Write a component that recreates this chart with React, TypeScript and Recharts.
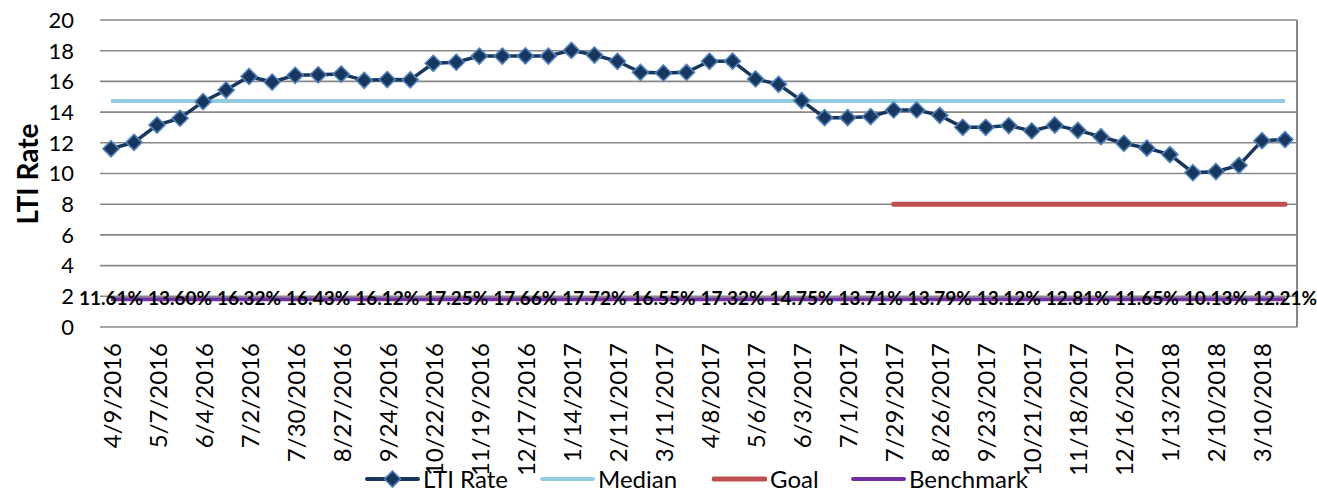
import React from "react";
import { LineChart, Line, XAxis, YAxis, CartesianGrid, Legend, LabelList } from "recharts";

const dates: string[] = [
  "4/9/2016", "4/23/2016", "5/7/2016", "5/21/2016", "6/4/2016", "6/18/2016",
  "7/2/2016", "7/16/2016", "7/30/2016", "8/13/2016", "8/27/2016", "9/10/2016",
  "9/24/2016", "10/8/2016", "10/22/2016", "11/5/2016", "11/19/2016", "12/3/2016",
  "12/17/2016", "12/31/2016", "1/14/2017", "1/28/2017", "2/11/2017", "2/25/2017",
  "3/11/2017", "3/25/2017", "4/8/2017", "4/22/2017", "5/6/2017", "5/20/2017",
  "6/3/2017", "6/17/2017", "7/1/2017", "7/15/2017", "7/29/2017", "8/12/2017",
  "8/26/2017", "9/9/2017", "9/23/2017", "10/7/2017", "10/21/2017", "11/4/2017",
  "11/18/2017", "12/2/2017", "12/16/2017", "12/30/2017", "1/13/2018", "1/27/2018",
  "2/10/2018", "2/24/2018", "3/10/2018", "3/24/2018",
];

const ltiRate: number[] = [
  11.61, 12.03, 13.16, 13.6, 14.68, 15.44,
  16.32, 15.96, 16.4, 16.43, 16.48, 16.07,
  16.12, 16.1, 17.18, 17.25, 17.65, 17.65,
  17.66, 17.65, 18.02, 17.72, 17.31, 16.59,
  16.55, 16.59, 17.31, 17.32, 16.16, 15.81,
  14.75, 13.64, 13.64, 13.71, 14.14, 14.14,
  13.79, 13.01, 13.01, 13.12, 12.77, 13.16,
  12.81, 12.4, 11.97, 11.65, 11.23, 10.05,
  10.13, 10.53, 12.14, 12.21,
];

const medianValue = 14.72;
const goalValue = 8;
const goalStartDate = "7/29/2017";
const benchmarkValue = 1.8;
const labelEvery = 3;
const yTicks: number[] = [0, 2, 4, 6, 8, 10, 12, 14, 16, 18, 20];

const goalStart = dates.indexOf(goalStartDate);
const data = dates.map((d, i) => ({
  date: d,
  lti: ltiRate[i],
  median: medianValue,
  goal: i >= goalStart ? goalValue : null,
  benchmark: benchmarkValue,
  ltiLabel: i % labelEvery === 0 ? ltiRate[i].toFixed(2) + "%" : null,
}));

const LTI_COLOR = "#17375e";
const LTI_BORDER = "#4f81bd";
const MEDIAN_COLOR = "#93cddd";
const GOAL_COLOR = "#c0504d";
const BENCH_COLOR = "#7030a0";
const GRID = "#878787";
const FONT = "Lato, 'Open Sans', sans-serif";

const Diamond = (props: any) => {
  const { cx, cy, index } = props;
  if (cx == null || cy == null) return null;
  const s = 8;
  return (
    <polygon
      key={"d" + index}
      points={`${cx},${cy - s} ${cx + s},${cy} ${cx},${cy + s} ${cx - s},${cy}`}
      fill={LTI_COLOR}
      stroke={LTI_BORDER}
      strokeWidth={1.6}
    />
  );
};

const XTick = (props: any) => {
  const { x, y, payload } = props;
  return (
    <text
      x={x}
      y={y}
      transform={`rotate(-90, ${x}, ${y})`}
      textAnchor="end"
      dominantBaseline="central"
      fontSize={24}
      fontFamily={FONT}
      fill="#000"
    >
      {payload.value}
    </text>
  );
};

const DataLabel = (props: any) => {
  const { x, y, value } = props;
  if (value == null || x == null) return null;
  return (
    <text x={x} y={y + 6} textAnchor="middle" fontSize={19} fontWeight={700} fontFamily={FONT} fill="#000">
      {value}
    </text>
  );
};

const YTitle = () => (
  <text
    x={27}
    y={174}
    transform="rotate(-90, 27, 174)"
    textAnchor="middle"
    dominantBaseline="central"
    fontSize={28}
    fontWeight={700}
    fontFamily={FONT}
    fill="#000"
  >
    LTI Rate
  </text>
);

const legendItems = [
  { name: "LTI Rate", color: LTI_COLOR, marker: true, left: 365, w: 4 },
  { name: "Median", color: MEDIAN_COLOR, marker: false, left: 540, w: 4 },
  { name: "Goal", color: GOAL_COLOR, marker: false, left: 712, w: 5 },
  { name: "Benchmark", color: BENCH_COLOR, marker: false, left: 851, w: 4 },
];

const LegendContent = () => (
  <div style={{ position: "relative", width: 1317, height: 26 }}>
    {legendItems.map((it) => (
      <div
        key={it.name}
        style={{ position: "absolute", left: it.left, top: 0, height: 26, display: "flex", alignItems: "center" }}
      >
        <svg width={55} height={20}>
          <line x1={2} y1={10} x2={53} y2={10} stroke={it.color} strokeWidth={it.w} strokeLinecap="round" />
          {it.marker && (
            <polygon points="27.5,2 35.5,10 27.5,18 19.5,10" fill={LTI_COLOR} stroke={LTI_BORDER} strokeWidth={1.6} />
          )}
        </svg>
        <span style={{ marginLeft: 3, fontSize: 24, fontFamily: FONT, lineHeight: "26px", color: "#000" }}>
          {it.name}
        </span>
      </div>
    ))}
  </div>
);

export default function App() {
  return (
    <div style={{ position: "absolute", left: 0, top: 0, width: 1317, height: 492, background: "#fff" }}>
      <LineChart
        width={1317}
        height={492}
        data={data}
        margin={{ top: 20, right: 0, bottom: 0, left: 0 }}
        style={{ fontFamily: FONT }}
      >
        <CartesianGrid vertical={false} stroke={GRID} strokeWidth={1.6} />
        <XAxis
          dataKey="date"
          interval={1}
          padding={{ left: 11, right: 12 }}
          tickLine={false}
          axisLine={false}
          tickSize={0}
          tickMargin={16}
          height={165}
          tick={<XTick />}
        />
        <YAxis
          yAxisId={0}
          domain={[0, 20]}
          ticks={yTicks}
          interval={0}
          width={100}
          tickLine={false}
          axisLine={false}
          tickSize={0}
          tickMargin={26}
          tick={{ fontSize: 22, fill: "#000", fontFamily: FONT }}
          label={<YTitle />}
        />
        <YAxis
          yAxisId="r"
          orientation="right"
          domain={[0, 20]}
          ticks={yTicks}
          interval={0}
          width={20}
          tick={false}
          tickSize={8}
          tickLine={{ stroke: GRID, strokeWidth: 1.6 }}
          axisLine={{ stroke: GRID, strokeWidth: 2 }}
        />
        <Legend
          verticalAlign="middle"
          align="center"
          layout="horizontal"
          wrapperStyle={{ position: "absolute", left: 0, top: 466, width: 1317, height: 26 }}
          content={<LegendContent />}
        />
        <Line yAxisId={0} dataKey="median" stroke={MEDIAN_COLOR} strokeWidth={4} dot={false} activeDot={false} isAnimationActive={false} />
        <Line yAxisId={0} dataKey="goal" stroke={GOAL_COLOR} strokeWidth={5} strokeLinecap="round" dot={false} activeDot={false} isAnimationActive={false} />
        <Line yAxisId={0} dataKey="lti" stroke={LTI_COLOR} strokeWidth={3.5} dot={<Diamond />} activeDot={false} isAnimationActive={false} />
        <Line yAxisId={0} dataKey="benchmark" stroke={BENCH_COLOR} strokeWidth={4} dot={false} activeDot={false} isAnimationActive={false}>
          <LabelList dataKey="ltiLabel" content={<DataLabel />} />
        </Line>
      </LineChart>
    </div>
  );
}
